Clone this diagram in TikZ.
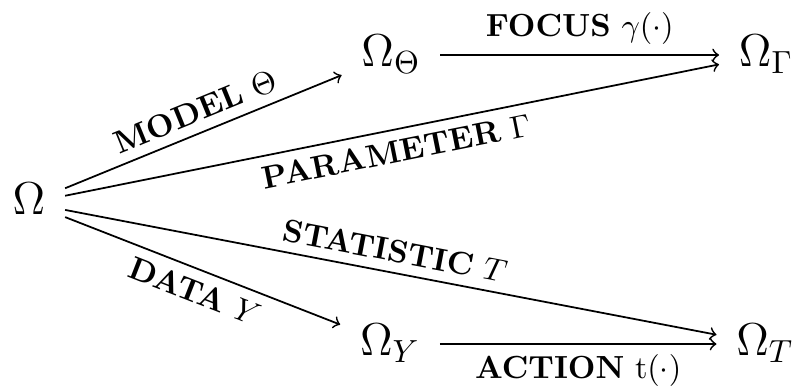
\documentclass[tikz,border=0pt]{standalone}
\usetikzlibrary{arrows}

\begin{document}
\begin{tikzpicture}[x=0.3125pt, y=-0.3125pt]
  \tikzset{
    set/.style={inner xsep=6pt, inner ysep=4pt, text height=10pt, text depth=2.8pt, font=\Large},
    lbl/.style={inner sep=3pt, font=\normalsize},
    map/.style={->, line width=0.55pt}
  }
  \def\ytop{55}
  \def\ybot{344}

  \useasboundingbox (0,0) rectangle (795,390);

%spaces:
  \node[set] (om)  at (29,203)   {$\Omega$};
  \node[set] (omth) at (391,\ytop) {$\Omega_\Theta$};
  \node[set] (omga) at (766,\ytop) {$\Omega_\Gamma$};
  \node[set] (omy)  at (390,\ybot) {$\Omega_Y$};
  \node[set] (omt)  at (765,\ybot) {$\Omega_T$};
%%%%%%

  \draw[map] (om) -- node[lbl, above, sloped, midway] {\textbf{MODEL} $\Theta$} (omth);
  \draw[map] (om) -- node[lbl, below, sloped, midway] {\textbf{PARAMETER} $\Gamma$} (omga);
  \draw[map] (om) -- node[lbl, above, sloped, midway] {\textbf{STATISTIC} $T$} (omt);
  \draw[map] (om) -- node[lbl, below, sloped, midway] {\textbf{DATA} $Y$} (omy);
  \draw[map] (omth) -- node[lbl, above, midway] {\textbf{FOCUS} $\gamma(\cdot)$} (omga);
  \draw[map] (omy) -- node[lbl, below, midway] {\textbf{ACTION} $\mathrm{t}(\cdot)$} (omt);

\end{tikzpicture}
\end{document}
